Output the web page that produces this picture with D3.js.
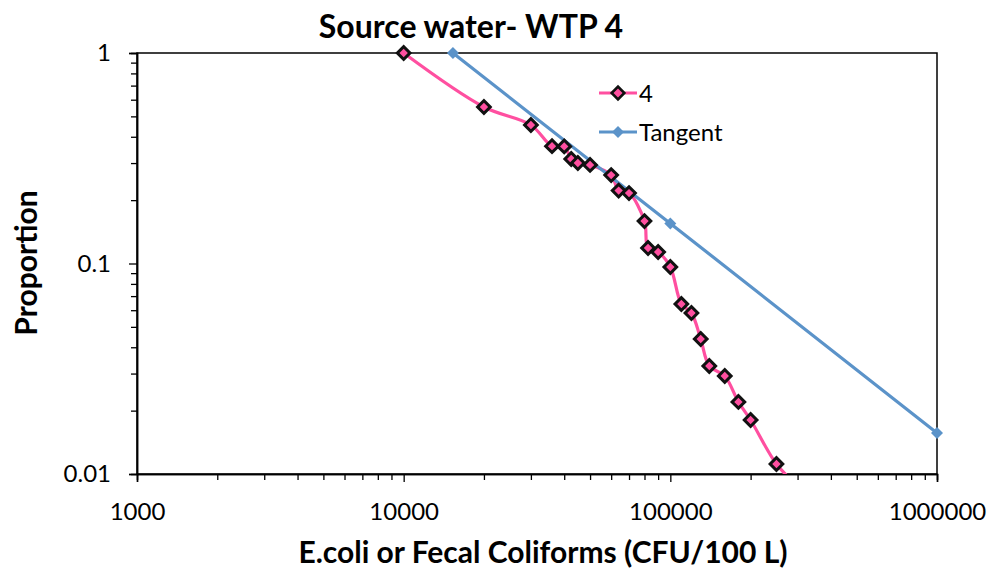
<!DOCTYPE html>
<html><head><meta charset="utf-8">
<script src="https://cdn.jsdelivr.net/npm/d3@7"></script>
<style>body{margin:0;background:#fff;} svg{display:block;font-family:Lato, "Open Sans", sans-serif;}</style>
</head><body>
<svg id="c" width="992" height="571"></svg>
<script>
const seriesX = [10000,20000,30000,36000,40000,42500,45000,50000,60000,64000,70000,80000,82500,90000,100000,110000,120000,130000,140000,160000,180000,200000,250000,300000];
const seriesY = [1,0.554,0.455,0.361,0.36,0.3135,0.30,0.294,0.263,0.222,0.216,0.159,0.1185,0.1134,0.0962,0.0642,0.0582,0.0438,0.0326,0.0292,0.022,0.01805,0.01115,0.0088];
const tangentX = [15300,100000,1000000];
const tangentY = [1,0.155,0.01566];
const xTicks = [1000,10000,100000,1000000];
const yTicks = [0.01,0.1,1];
const legendNames = ["4","Tangent"];
const titleText = "Source water- WTP 4";
const xTitle = "E.coli or Fecal Coliforms (CFU/100 L)";
const yTitle = "Proportion";

const svg = d3.select("#c");
const L=137,R=937,T=53,B=474;
const x = d3.scaleLog().domain([1000,1000000]).range([L,R]);
const y = d3.scaleLog().domain([0.01,1]).range([B,T]);
const pink="#ff4fa0", blue="#5b93c9";

svg.append("rect").attr("x",L).attr("y",T).attr("width",R-L).attr("height",B-T).attr("fill","none").attr("stroke","#000").attr("stroke-width",1.5);

const xMinor=[], yMinor=[];
for (let d=1000; d<1000000; d*=10) for (let k=2;k<10;k++) xMinor.push(d*k);
for (let d=0.01; d<1; d*=10) for (let k=2;k<10;k++) yMinor.push(d*k);

const xAx = svg.append("g").attr("transform",`translate(0,${B})`);
xAx.call(d3.axisBottom(x).tickValues(xMinor).tickSize(6).tickFormat(""));
xAx.append("g").call(d3.axisBottom(x).tickValues(xTicks).tickSize(8).tickFormat(d3.format("d")));
xAx.selectAll(".domain").attr("stroke","#000").attr("stroke-width",1.5);
xAx.selectAll("line").attr("stroke","#000").attr("stroke-width",1.3);
xAx.selectAll("text").attr("font-size",24).attr("fill","#000").attr("y",46).attr("dy",0).attr("font-family","Lato");

const yAx = svg.append("g").attr("transform",`translate(${L},0)`);
yAx.call(d3.axisLeft(y).tickValues(yMinor).tickSize(6).tickFormat(""));
yAx.append("g").call(d3.axisLeft(y).tickValues(yTicks).tickSize(8).tickFormat(d=>d3.format("~g")(d)));
yAx.selectAll(".domain").attr("stroke","#000").attr("stroke-width",1.5);
yAx.selectAll("line").attr("stroke","#000").attr("stroke-width",1.3);
yAx.selectAll("text").attr("font-size",24).attr("fill","#000").attr("x",-26).attr("font-family","Lato");

svg.append("clipPath").attr("id","clip").append("rect").attr("x",L).attr("y",T-8).attr("width",R-L+8).attr("height",B-T+8);

const pinkPts = seriesX.map((v,i)=>[v,seriesY[i]]);
const bluePts = tangentX.map((v,i)=>[v,tangentY[i]]);

const g = svg.append("g").attr("clip-path","url(#clip)");
g.append("path").datum(pinkPts).attr("fill","none").attr("stroke",pink).attr("stroke-width",3.2)
 .attr("d",d3.line().x(d=>x(d[0])).y(d=>y(d[1])).curve(d3.curveCatmullRom.alpha(0.5)));
g.append("path").datum(bluePts).attr("fill","none").attr("stroke",blue).attr("stroke-width",3.2)
 .attr("d",d3.line().x(d=>x(d[0])).y(d=>y(d[1])));

const sq = d3.symbol().type(d3.symbolSquare).size(80);
const bsq = d3.symbol().type(d3.symbolSquare).size(72);
svg.append("g").selectAll("path").data(bluePts).join("path")
 .attr("d",bsq).attr("transform",d=>`translate(${x(d[0])},${y(d[1])}) rotate(45)`).attr("fill",blue);
svg.append("g").selectAll("path").data(pinkPts.filter(d=>d[1]>=0.01)).join("path")
 .attr("d",sq).attr("transform",d=>`translate(${x(d[0])},${y(d[1])}) rotate(45)`)
 .attr("fill",pink).attr("stroke","#111").attr("stroke-width",3);

const lg = svg.append("g");
[[pink,true],[blue,false]].forEach((s,i)=>{
  const yy = 93 + i*39;
  lg.append("line").attr("x1",599).attr("x2",637).attr("y1",yy).attr("y2",yy).attr("stroke",s[0]).attr("stroke-width",3.2);
  lg.append("path").attr("d",s[1]?sq:bsq).attr("transform",`translate(618,${yy}) rotate(45)`)
    .attr("fill",s[0]).attr("stroke",s[1]?"#111":"none").attr("stroke-width",2.6);
  lg.append("text").attr("x",639).attr("y",yy).attr("dy","0.36em").attr("font-size",24).text(legendNames[i]);
});

svg.append("text").attr("x",471).attr("y",38).attr("text-anchor","middle").attr("font-size",32).attr("font-weight","bold").text(titleText);
svg.append("text").attr("x",543).attr("y",563).attr("text-anchor","middle").attr("font-size",30).attr("font-weight","bold").text(xTitle);
svg.append("text").attr("transform","translate(37,263) rotate(-90)").attr("text-anchor","middle").attr("font-size",30).attr("font-weight","bold").text(yTitle);
</script>
</body></html>
